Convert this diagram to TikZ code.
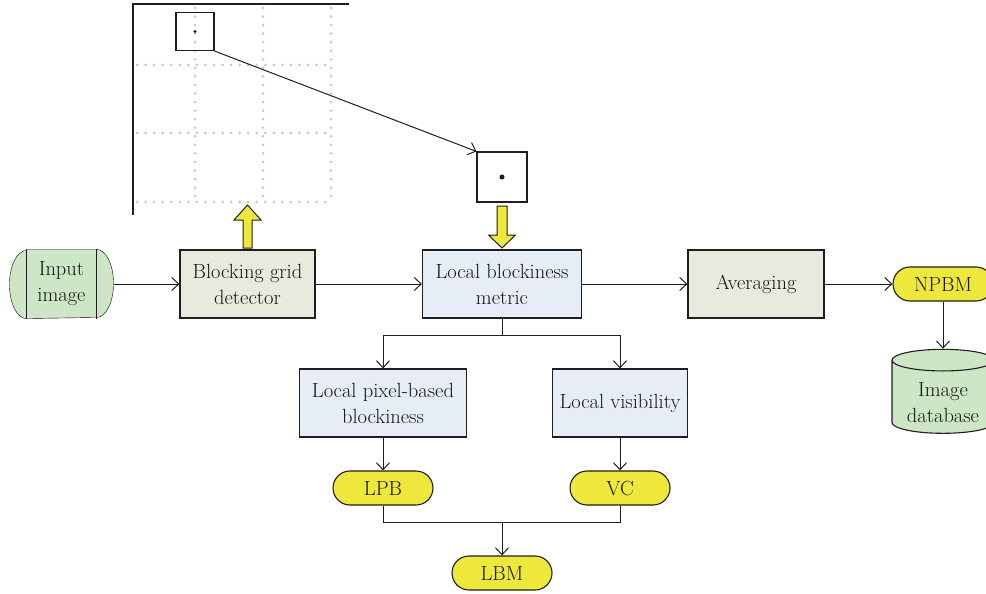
\documentclass[tikz,border=0pt]{standalone}
\usetikzlibrary{positioning,arrows.meta,shapes.geometric,shapes.misc,backgrounds}

\definecolor{stagegreen}{HTML}{E7EADD}
\definecolor{stageblue}{HTML}{E6EDF6}
\definecolor{srcgreen}{HTML}{CDE6C6}
\definecolor{tagyellow}{HTML}{EEE83A}
\definecolor{inkgray}{HTML}{1E1E1E}
\definecolor{textgray}{HTML}{151515}
\definecolor{gridgray}{HTML}{C8C8C8}

\begin{document}
\begin{tikzpicture}[x=1pt, y=-1pt, color=inkgray, line width=1.1pt,
    txt/.style={font=\fontsize{20.5}{26}\selectfont, align=center, text=textgray},
    box/.style={txt, draw, rectangle, minimum height=68pt, inner sep=2pt},
    stage/.style={box, fill=stagegreen},
    metricbox/.style={box, fill=stageblue},
    tag/.style={txt, draw, rounded rectangle, fill=tagyellow,
        minimum width=102pt, minimum height=34pt, inner sep=1pt},
    flow/.style={-{Straight Barb[length=7pt,width=13pt]}, line width=1pt},
    yarrow/.style={draw, fill=tagyellow, line width=1pt, line join=miter},
    dotline/.style={gridgray, line width=3pt, line cap=round,
        dash pattern=on 0pt off 8.55pt}
]
\useasboundingbox (0,0) rectangle (986,594);

% Grid
\foreach \g in {195,263,331} {
    \draw[dotline] (\g,8) -- (\g,202);
}
\foreach \g in {65,133,202} {
    \draw[dotline] (137,\g) -- (331,\g);
}
\draw[] (133,215) -- (133,4) -- (349,4);

% Blocks
\node[draw, minimum size=38pt, inner sep=0pt] (pick) at (195,31.5) {};
\fill (pick.center) circle (1.6pt);
\node[draw, minimum size=50pt, inner sep=0pt] (zoomed) at (502,177) {};
\fill (zoomed.center) circle (2.5pt);

% Top row
\node[txt, minimum width=103pt, minimum height=68pt, inner sep=0pt] (inimg) at (61.5,284) {Input\\image};
\node[stage, minimum width=135pt] (gridbox) at (247.5,284) {Blocking grid\\detector};
\node[metricbox, minimum width=159pt] (lbmet) at (502,284) {Local blockiness\\metric};
\node[stage, minimum width=136pt] (avg) at (756,284) {Averaging};
\node[tag] (npbm) at (943,284) {NPBM};
\node[txt, draw, cylinder, shape border rotate=90, aspect=0.3, fill=srcgreen,
    minimum width=102pt, minimum height=84pt, inner sep=0pt,
    label={[txt, yshift=-6pt]center:Image\\database}] (db) at (943,397)
    {\phantom{Image}\\\phantom{database}};

% Second row
\node[metricbox, minimum width=167pt] (lpbbox) at (383,403) {Local pixel-based\\blockiness};
\node[metricbox, minimum width=135pt] (visbox) at (620,403) {Local visibility};
\node[tag] (lpb) at (383,488) {LPB};
\node[tag] (vc) at (620,488) {VC};
\node[tag] (lbm) at (502,573) {LBM};

% Input shape
\begin{pgfonlayer}{background}
\draw[fill=srcgreen] ([xshift=17pt]inimg.north west) -- ([xshift=-17pt]inimg.north east)
    arc[start angle=90, end angle=-90, x radius=17pt, y radius=34pt]
    -- ([xshift=17pt]inimg.south west)
    arc[start angle=270, end angle=90, x radius=17pt, y radius=34pt] -- cycle;
\end{pgfonlayer}
\draw[] ([xshift=17pt]inimg.north west) -- ([xshift=17pt]inimg.south west);
\draw[] ([xshift=-17pt]inimg.north east) -- ([xshift=-17pt]inimg.south east);

% Yellow arrows
\draw[yarrow] (243,248) -- (243,220) -- (234,220) -- (247.5,205) -- (261,220) -- (252,220) -- (252,248) -- cycle;
\draw[yarrow] (497,206) -- (507,206) -- (507,235) -- (515.5,235) -- (502,248) -- (488.5,235) -- (497,235) -- cycle;

% Connectors
\coordinate (split) at (502,335);
\coordinate (join) at (502,522);
\draw[flow] (pick.south east) -- (zoomed.north west);
\draw[flow] (inimg.east) -- (gridbox.west);
\draw[flow] (gridbox.east) -- (lbmet.west);
\draw[flow] (lbmet.east) -- (avg.west);
\draw[flow] (avg.east) -- (npbm.west);
\draw[flow] (npbm.south) -- (db.top);
\draw[line width=1pt] (lbmet.south) -- (split);
\draw[flow] (split) -| (lpbbox.north);
\draw[flow] (split) -| (visbox.north);
\draw[flow] (lpbbox.south) -- (lpb.north);
\draw[flow] (visbox.south) -- (vc.north);
\draw[line width=1pt] (lpb.south) |- (join);
\draw[line width=1pt] (vc.south) |- (join);
\draw[flow] (join) -- (lbm.north);
\end{tikzpicture}
\end{document}
